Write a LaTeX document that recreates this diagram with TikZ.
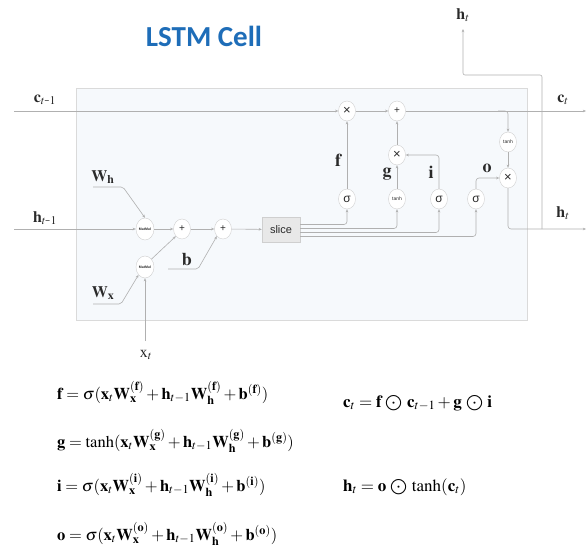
\documentclass[tikz,border=0pt]{standalone}
\usepackage{mathptmx}
\usepackage{fontspec}
\usetikzlibrary{shapes.geometric,arrows.meta}
\newfontfamily\opfont{Liberation Sans}
\newfontfamily\titlefont{Carlito}
\definecolor{ln}{HTML}{B0B0B0}
\definecolor{nodeb}{HTML}{CFCFCF}
\definecolor{boxb}{HTML}{DADADA}
\definecolor{boxf}{HTML}{F6F9FC}
\definecolor{ttl}{HTML}{1E6DB8}
\definecolor{lbl}{HTML}{2A2A2A}
\tikzset{
  op/.style={ellipse, draw=nodeb, fill=white, minimum width=17pt, minimum height=20pt, inner sep=0pt, font=\opfont\fontsize{10}{11}\selectfont, text=lbl},
  mm/.style={ellipse, draw=nodeb, fill=white, minimum width=18pt, minimum height=22pt, inner sep=0pt, font=\opfont\bfseries\fontsize{3.5}{4}\selectfont, text=lbl},
  conn/.style={draw=ln, line width=0.6pt},
  arr/.style={conn, -{Stealth[length=3.2pt,width=2.6pt]}},
  lab/.style={text=lbl, inner sep=0pt, font=\fontsize{16}{18}\selectfont},
  glab/.style={text=lbl, inner sep=0pt, font=\fontsize{18}{20}\selectfont},
  eq/.style={text=black, inner sep=0pt, anchor=west, font=\fontsize{16.5}{19}\selectfont},
  eqr/.style={text=black, inner sep=0pt, anchor=west, font=\fontsize{17}{19}\selectfont},
}
\newcommand{\hp}{\mathbin{\,{\textstyle\bigodot}\,}}
\begin{document}
\begin{tikzpicture}[x=1pt,y=-1pt]
\useasboundingbox (0,0) rectangle (588,549);
% title
\node (title) [text=ttl, font=\titlefont\bfseries\fontsize{29}{33}\selectfont] at (204,36) {LSTM Cell};
% cell box
\node (cell) [draw=boxb, fill=boxf, line width=0.7pt, minimum width=451pt, minimum height=232pt, inner sep=0pt] at (301.5,204) {};
% coordinates
\coordinate (cin) at (14,111);
\coordinate (cout) at (586,111);
\coordinate (hin) at (14,229);
\coordinate (hout) at (586,229);
\coordinate (br) at (498,111);
\coordinate (hj) at (542,229);
\coordinate (htop) at (463,29);
\coordinate (xtb) at (145,341);
\coordinate (whs) at (93,187);
\coordinate (wxs) at (93,304);
\coordinate (bs) at (168,269);
% nodes
\node[op] (mulf) at (347,111) {\fontsize{13}{13}\selectfont ×};
\node[op] (addc) at (397,111) {+};
\node[op] (mulig) at (397,155) {\fontsize{13}{13}\selectfont ×};
\node[op] (sigf) at (347,199) {\fontsize{12}{12}\selectfont σ};
\node[op, font=\opfont\fontsize{5}{6}\selectfont] (tanhg) at (397,199) {tanh};
\node[op] (sigi) at (439,199) {\fontsize{12}{12}\selectfont σ};
\node[op] (sigo) at (476,199) {\fontsize{12}{12}\selectfont σ};
\node[op] (mulo) at (508,178) {\fontsize{13}{13}\selectfont ×};
\node[op, font=\opfont\fontsize{5}{6}\selectfont] (tanhc) at (508,142) {tanh};
\node[mm] (mm1) at (145,229) {MatMul};
\node[mm] (mm2) at (145,267) {MatMul};
\node[op] (p1) at (182,229) {+};
\node[op] (p2) at (223,229) {+};
\node (slice) [draw=nodeb, fill=black!9, minimum width=38pt, minimum height=25pt, inner sep=0pt, font=\opfont\fontsize{11}{12}\selectfont, text=lbl] at (281,229.5) {slice};
% labels
\node[lab] (lct1) at (45,100) {$\mathbf{c}_{t\mbox{-}1}$};
\node[lab] (lht1) at (45,218) {$\mathbf{h}_{t\mbox{-}1}$};
\node[lab] (lct) at (563,100) {$\mathbf{c}_{t}$};
\node[lab] (lht) at (563,213) {$\mathbf{h}_{t}$};
\node[lab] (lhtop) at (463,15) {$\mathbf{h}_{t}$};
\node[lab] (lxt) at (146,355) {$\mathrm{x}_{t}$};
\node[lab] (lwh) at (103,177) {$\mathbf{W}_{\mathbf{h}}$};
\node[lab] (lwx) at (103,293) {$\mathbf{W}_{\mathbf{x}}$};
\node[glab] (lb) at (187,260) {$\mathbf{b}$};
\node[glab] (lf) at (338,160) {$\mathbf{f}$};
\node[glab] (lg) at (387,174) {$\mathbf{g}$};
\node[glab] (li) at (431,172) {$\mathbf{i}$};
\node[glab] (lo) at (487,168) {$\mathbf{o}$};
% c path
\draw[arr] (cin) -- (mulf);
\draw[arr] (mulf) -- (addc);
\draw[arr] (addc) -- (cout);
\draw[arr, rounded corners=3pt] (br) -| (tanhc);
\draw[arr] (tanhc) -- (mulo);
\draw[arr] (mulig) -- (addc);
\draw[arr] (sigf) -- (mulf);
\draw[arr] (tanhg) -- (mulig);
\draw[arr, rounded corners=3pt] (sigi.north) |- (mulig.east);
\draw[arr, rounded corners=3pt] (sigo.north) |- (mulo.west);
% h output
\draw[arr, rounded corners=3pt] (mulo.south) |- (hout);
\draw[arr, rounded corners=2pt] (hj) -- ++(0,-154) -| (htop);
% input side
\draw[arr] (hin) -- (mm1);
\draw[arr, rounded corners=2pt] (whs) -- (123,187) -- (mm1.north);
\draw[arr, rounded corners=2pt] (wxs) -- (121,304) -- (mm2.south west);
\draw[arr] (xtb) -- (mm2);
\draw[arr] (mm1) -- (p1);
\draw[arr] (mm2.north east) -- (p1.south west);
\draw[arr] (p1) -- (p2);
\draw[arr, rounded corners=2pt] (bs) -- (198,269) -- (p2.south west);
\draw[arr] (p2) -- (slice);
% slice outputs
\draw[arr, rounded corners=3pt] ([yshift=5pt]slice.east) -| (sigf.south);
\draw[arr, rounded corners=3pt] ([yshift=1pt]slice.east) -| (tanhg.south);
\draw[arr, rounded corners=3pt] ([yshift=-3pt]slice.east) -| (sigi.south);
\draw[arr, rounded corners=3pt] ([yshift=-7pt]slice.east) -| (sigo.south);
% equations
\node[eq] (eqf) at (57,393) {$\mathbf{f} = \sigma(\mathbf{x}_t\mathbf{W}_{\mathbf{x}}^{(\mathbf{f})} + \mathbf{h}_{t-1}\mathbf{W}_{\mathbf{h}}^{(\mathbf{f})} + \mathbf{b}^{(\mathbf{f})})$};
\node[eq] (eqg) at (57,441) {$\mathbf{g} = \tanh(\mathbf{x}_t\mathbf{W}_{\mathbf{x}}^{(\mathbf{g})} + \mathbf{h}_{t-1}\mathbf{W}_{\mathbf{h}}^{(\mathbf{g})} + \mathbf{b}^{(\mathbf{g})})$};
\node[eq] (eqi) at (57,485) {$\mathbf{i} = \sigma(\mathbf{x}_t\mathbf{W}_{\mathbf{x}}^{(\mathbf{i})} + \mathbf{h}_{t-1}\mathbf{W}_{\mathbf{h}}^{(\mathbf{i})} + \mathbf{b}^{(\mathbf{i})})$};
\node[eq] (eqo) at (57,534) {$\mathbf{o} = \sigma(\mathbf{x}_t\mathbf{W}_{\mathbf{x}}^{(\mathbf{o})} + \mathbf{h}_{t-1}\mathbf{W}_{\mathbf{h}}^{(\mathbf{o})} + \mathbf{b}^{(\mathbf{o})})$};
\node[eqr] (eqc) at (343,403) {$\mathbf{c}_t = \mathbf{f}\hp\mathbf{c}_{t-1} + \mathbf{g}\hp\mathbf{i}$};
\node[eqr] (eqh) at (343,487) {$\mathbf{h}_t = \mathbf{o}\hp\tanh(\mathbf{c}_t)$};
\end{tikzpicture}
\end{document}
